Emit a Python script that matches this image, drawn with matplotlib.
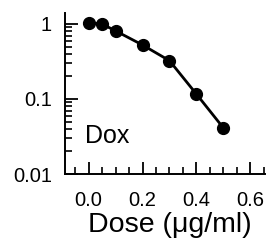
import matplotlib
matplotlib.use("Agg")
import matplotlib.pyplot as plt
from matplotlib.ticker import LogLocator, MultipleLocator, NullFormatter

dose = [0.0, 0.05, 0.1, 0.2, 0.3, 0.4, 0.5]
survival = [1.04, 1.0, 0.81, 0.525, 0.324, 0.116, 0.041]
xticks = [0.0, 0.2, 0.4, 0.6]
xticklabels = ["0.0", "0.2", "0.4", "0.6"]
yticks = [0.01, 0.1, 1]
yticklabels = ["0.01", "0.1", "1"]

plt.rcParams['font.family'] = ['Liberation Sans', 'DejaVu Sans']

fig = plt.figure(figsize=(2.67, 2.41), dpi=100)
ax = fig.add_axes([0.2416, 0.278, 0.751, 0.668])
ax.plot(dose, survival, color='black', lw=2.0, marker='o', ms=8.5, solid_capstyle='round')
ax.set_yscale('log')
ax.set_ylim(0.01, 1.40)
ax.set_xlim(-0.089, 0.654)
ax.spines['top'].set_visible(False)
ax.spines['right'].set_visible(False)
for s in ['left', 'bottom']:
    ax.spines[s].set_linewidth(1.4)
ax.set_xticks(xticks)
ax.set_xticklabels(xticklabels)
ax.xaxis.set_minor_locator(MultipleLocator(0.05))
ax.set_yticks(yticks)
ax.set_yticklabels(yticklabels)
ax.yaxis.set_minor_locator(LogLocator(base=10, subs=range(2, 10)))
ax.yaxis.set_minor_formatter(NullFormatter())
ax.tick_params(which='major', direction='in', length=9, width=1.3, labelsize=14.5, pad=9, color='black')
ax.tick_params(which='minor', direction='in', length=4.8, width=1.2, color='black')
ax.tick_params(axis='x', which='major', pad=12)
ax.set_xlabel("Dose (\u03bcg/ml)", fontsize=20.5, labelpad=0)
ax.xaxis.set_label_coords(0.524, -0.235)
ax.text(-0.013, 0.0257, "Dox", fontsize=18, va='baseline')
fig.savefig("out.png", dpi=100)
